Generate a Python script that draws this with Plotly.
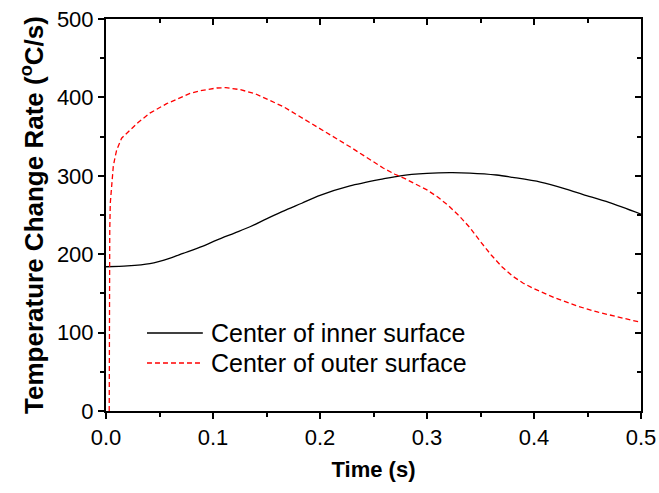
import plotly.graph_objects as go

# Data
t_inner = [0.0, 0.02, 0.041, 0.06, 0.072, 0.09, 0.1034, 0.12, 0.1346, 0.15, 0.1657, 0.183, 0.2, 0.228,
           0.259, 0.275, 0.3, 0.3215, 0.34, 0.365, 0.38, 0.406, 0.43, 0.446, 0.47, 0.5]
v_inner = [184, 185, 188, 195, 201, 210, 218, 227, 235, 245, 255, 265, 275, 287,
           296, 300, 303, 304, 303.5, 301, 298, 292, 283, 276, 266, 251]

t_outer = [0.003, 0.003, 0.0035, 0.004, 0.0053, 0.0068, 0.0085, 0.01, 0.0146, 0.0224, 0.03, 0.041,
           0.0567, 0.0785, 0.09, 0.1034, 0.112, 0.125, 0.139, 0.166, 0.197, 0.228, 0.259, 0.27,
           0.28, 0.29, 0.30, 0.31, 0.32, 0.33, 0.34, 0.35, 0.36, 0.37, 0.38, 0.39, 0.40,
           0.42, 0.44, 0.46, 0.48, 0.5]
v_outer = [0, 150, 230, 265, 291, 312, 324, 333, 348, 358, 368, 380,
           392, 405, 409, 412, 412.5, 410, 405, 388, 363, 337, 310, 302,
           296, 289, 282, 273, 262, 249, 234, 216, 199, 184, 172, 163, 156,
           144, 134, 126, 119, 113]

series_names = ["Center of inner surface", "Center of outer surface"]
x_ticks = [0.0, 0.1, 0.2, 0.3, 0.4, 0.5]
x_ticklabels = ["0.0", "0.1", "0.2", "0.3", "0.4", "0.5"]
y_ticks = [0, 100, 200, 300, 400, 500]

FONT = "Liberation Sans, Arial, sans-serif"
RED = "#ff0000"
DASH = "5px,3px"

fig = go.Figure()
fig.add_trace(go.Scatter(x=t_inner, y=v_inner, mode="lines", name=series_names[0],
                         line=dict(color="black", width=1.3, shape="spline", smoothing=0.8),
                         showlegend=False))
fig.add_trace(go.Scatter(x=t_outer, y=v_outer, mode="lines", name=series_names[1],
                         line=dict(color=RED, width=1.3, dash=DASH), showlegend=False))
# invisible trace to activate mirror axes (top/right with inward ticks)
fig.add_trace(go.Scatter(x=t_inner, y=v_inner, xaxis="x2", yaxis="y2", mode="lines",
                         line=dict(width=0), opacity=0, showlegend=False, hoverinfo="skip"))

common = dict(showgrid=False, zeroline=False, linecolor="black", linewidth=2,
              tickcolor="black", tickwidth=1.5, automargin=False)

fig.update_layout(
    width=659, height=493,
    margin=dict(l=106, r=18, t=19, b=82, autoexpand=False),
    paper_bgcolor="white", plot_bgcolor="white",
    font=dict(family=FONT, color="black", size=22),
    xaxis=dict(range=[0, 0.5], tickvals=x_ticks, ticktext=x_ticklabels, ticks="outside",
               ticklen=6, showline=True,
               minor=dict(dtick=0.05, ticks="outside", ticklen=4, tickcolor="black", tickwidth=1.5),
               title=dict(text="<b>Time (s)</b>", font=dict(size=22), standoff=12),
               tickfont=dict(size=22), **common),
    yaxis=dict(range=[0, 500], tickvals=y_ticks, ticks="outside", ticklen=6, showline=True,
               minor=dict(dtick=50, ticks="outside", ticklen=4, tickcolor="black", tickwidth=1.5),
               title=dict(text="<b>Temperature Change Rate (<sup>o</sup>C/s)</b>", font=dict(size=26),
                          standoff=6),
               tickfont=dict(size=22), **common),
    xaxis2=dict(range=[0, 0.5], overlaying="x", side="top", tickvals=x_ticks, ticks="inside",
                ticklen=6, showline=True, showticklabels=False,
                minor=dict(dtick=0.05, ticks="inside", ticklen=4, tickcolor="black", tickwidth=1.5),
                **common),
    yaxis2=dict(range=[0, 500], overlaying="y", side="right", tickvals=y_ticks, ticks="inside",
                ticklen=6, showline=True, showticklabels=False,
                minor=dict(dtick=50, ticks="inside", ticklen=4, tickcolor="black", tickwidth=1.5),
                **common),
)

# Custom legend (longer line samples as in the reference)
leg_y = [0.199, 0.1224]
leg_styles = [dict(color="black", width=1.3), dict(color=RED, width=1.3, dash=DASH)]
for name, yy, ls in zip(series_names, leg_y, leg_styles):
    fig.add_shape(type="line", xref="paper", yref="paper", x0=0.0766, x1=0.181, y0=yy, y1=yy,
                  line=ls)
    fig.add_annotation(text=name, xref="paper", yref="paper", x=0.192, y=yy, xanchor="left",
                       yanchor="middle", showarrow=False, font=dict(size=25, family=FONT))

fig.write_html("out.html")
